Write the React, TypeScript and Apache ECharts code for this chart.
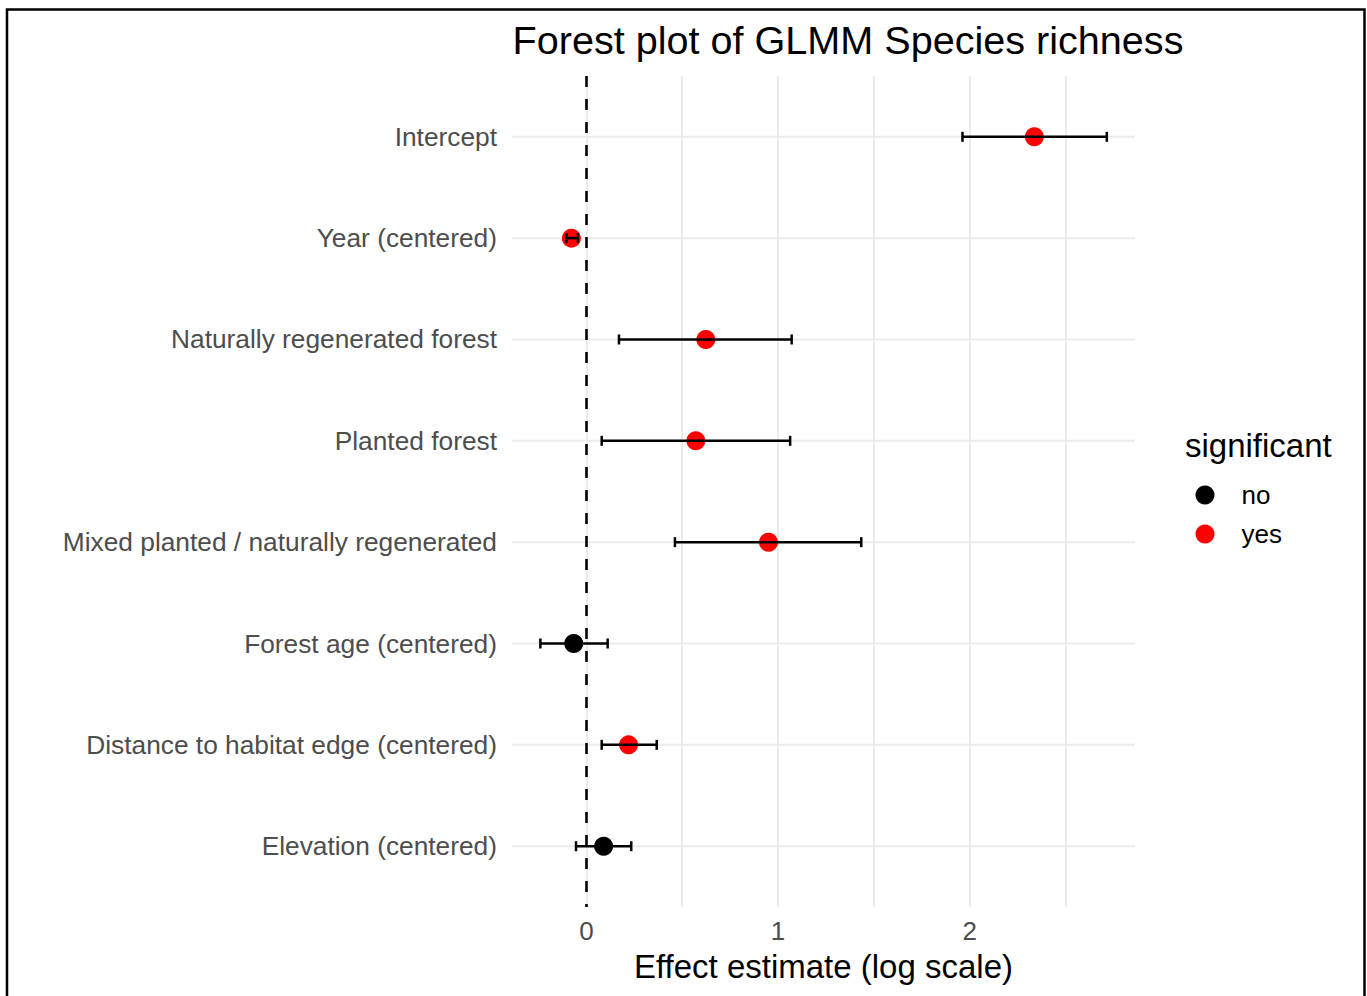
import React, { useEffect, useRef } from "react";
import * as echarts from "echarts";

const terms = [
  "Intercept",
  "Year (centered)",
  "Naturally regenerated forest",
  "Planted forest",
  "Mixed planted / naturally regenerated",
  "Forest age (centered)",
  "Distance to habitat edge (centered)",
  "Elevation (centered)",
];
const estimates = [2.337, -0.078, 0.623, 0.571, 0.95, -0.066, 0.22, 0.09];
const lowerCI = [1.962, -0.104, 0.17, 0.08, 0.462, -0.24, 0.08, -0.054];
const upperCI = [2.715, -0.044, 1.071, 1.063, 1.434, 0.111, 0.367, 0.234];
const significant = ["yes", "yes", "yes", "yes", "yes", "no", "yes", "no"];
const xTickLabels = [0, 1, 2];
const xGridValues = [0, 0.5, 1, 1.5, 2, 2.5];
const groups = ["no", "yes"];
const groupColors: Record<string, string> = { no: "#000000", yes: "#FF0000" };

const FONT = "Liberation Sans, Arial, Helvetica, sans-serif";

export default function App() {
  const ref = useRef<HTMLDivElement>(null);

  useEffect(() => {
    if (!ref.current) return;
    const chart = echarts.init(ref.current, undefined, { renderer: "svg" });

    const rowIndex = terms.map((_, i) => i);

    const option: any = {
      animation: false,
      backgroundColor: "#ffffff",
      textStyle: { fontFamily: FONT },
      grid: {
        left: 512,
        right: 232,
        top: 76,
        bottom: 89,
        containLabel: false,
        outerBoundsMode: "none",
      },
      xAxis: {
        type: "value",
        min: -0.388,
        max: 2.862,
        name: "Effect estimate (log scale)",
        nameLocation: "middle",
        nameGap: 43,
        nameTextStyle: { fontSize: 33, color: "#000000", fontFamily: FONT },
        axisLine: { show: false },
        axisTick: { show: false, customValues: xGridValues },
        axisLabel: {
          customValues: xTickLabels,
          fontSize: 26,
          color: "#4D4D4D",
          margin: 11,
          fontFamily: FONT,
          formatter: (v: number) => String(v),
        },
        splitLine: { show: true, lineStyle: { color: "#EBEBEB", width: 2 } },
      },
      yAxis: {
        type: "value",
        min: -0.6,
        max: 7.6,
        inverse: true,
        axisLine: { show: false },
        axisTick: { show: false, customValues: rowIndex },
        splitLine: { show: false },
        axisLabel: {
          customValues: rowIndex,
          fontSize: 26.3,
          color: "#4D4D4D",
          margin: 15,
          fontFamily: FONT,
          formatter: (v: number) => terms[Math.round(v)] ?? "",
        },
      },
      legend: {
        orient: "vertical",
        left: 1190.5,
        top: 477,
        itemWidth: 19,
        itemHeight: 19,
        itemGap: 13,
        icon: "circle",
        data: groups,
        textStyle: { fontSize: 26, color: "#000000", fontFamily: FONT, padding: [0, 0, 0, 22] },
      },
      graphic: [
        {
          type: "rect",
          shape: { x: 7, y: 9.5, width: 1357.5, height: 1000 },
          style: { fill: "none", stroke: "#000000", lineWidth: 2.5 },
          silent: true,
          z: 100,
        },
        {
          type: "text",
          x: 848,
          y: 40,
          style: {
            text: "Forest plot of GLMM Species richness",
            fontSize: 39.6,
            fontFamily: FONT,
            fill: "#000000",
            align: "center",
            verticalAlign: "middle",
          },
        },
        {
          type: "text",
          x: 1185,
          y: 445,
          style: {
            text: "significant",
            fontSize: 33,
            fontFamily: FONT,
            fill: "#000000",
            align: "left",
            verticalAlign: "middle",
          },
        },
      ],
      series: [
        {
          name: "gridlines",
          type: "custom",
          z: 1,
          silent: true,
          data: rowIndex.map((i) => [0, i]),
          encode: { x: 0, y: 1 },
          renderItem: (params: any, api: any) => {
            const y = api.coord([0, api.value(1)])[1];
            const cs = params.coordSys;
            return {
              type: "line",
              shape: { x1: cs.x, y1: y, x2: cs.x + cs.width, y2: y },
              style: { stroke: "#EBEBEB", lineWidth: 2 },
            };
          },
          markLine: {
            silent: true,
            symbol: ["none", "none"],
            label: { show: false },
            lineStyle: { color: "#000000", width: 2.6, type: [11, 12] },
            data: [{ xAxis: 0 }],
          },
        },
        ...groups.map((g) => ({
          name: g,
          type: "scatter",
          z: 3,
          symbol: "circle",
          symbolSize: 19,
          itemStyle: { color: groupColors[g], opacity: 1 },
          data: rowIndex
            .filter((i) => significant[i] === g)
            .map((i) => [estimates[i], i]),
        })),
        {
          name: "ci",
          type: "custom",
          z: 4,
          silent: true,
          data: rowIndex.map((i) => [lowerCI[i], upperCI[i], i]),
          encode: { x: [0, 1], y: 2 },
          renderItem: (params: any, api: any) => {
            const lo = api.coord([api.value(0), api.value(2)]);
            const hi = api.coord([api.value(1), api.value(2)]);
            const h = 5;
            const st = { stroke: "#000000", lineWidth: 2.5 };
            return {
              type: "group",
              children: [
                { type: "line", shape: { x1: lo[0], y1: lo[1], x2: hi[0], y2: hi[1] }, style: st },
                { type: "line", shape: { x1: lo[0], y1: lo[1] - h, x2: lo[0], y2: lo[1] + h }, style: st },
                { type: "line", shape: { x1: hi[0], y1: hi[1] - h, x2: hi[0], y2: hi[1] + h }, style: st },
              ],
            };
          },
        },
      ],
    };

    chart.setOption(option);
    return () => chart.dispose();
  }, []);

  return (
    <div
      ref={ref}
      style={{ position: "fixed", left: 0, top: 0, width: 1367, height: 996, background: "#fff" }}
    />
  );
}
